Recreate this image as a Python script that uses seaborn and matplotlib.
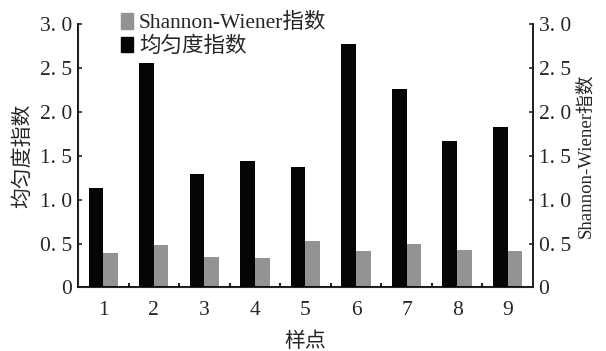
import numpy as np
import pandas as pd
import matplotlib
matplotlib.use("Agg")
import matplotlib.pyplot as plt
import seaborn as sns
from matplotlib.patches import Patch

sites = ["1", "2", "3", "4", "5", "6", "7", "8", "9"]
evenness = [1.13, 2.56, 1.29, 1.44, 1.37, 2.77, 2.26, 1.67, 1.83]
shannon = [0.39, 0.48, 0.35, 0.34, 0.53, 0.41, 0.49, 0.43, 0.41]
series_names = ["均匀度指数", "Shannon-Wiener指数"]
ytick_vals = [0, 0.5, 1.0, 1.5, 2.0, 2.5, 3.0]
ytick_labels = ["0", "0. 5", "1. 0", "1. 5", "2. 0", "2. 5", "3. 0"]

df = pd.DataFrame({
    "样点": sites * 2,
    "值": evenness + shannon,
    "指数": [series_names[0]] * len(sites) + [series_names[1]] * len(sites),
})

sns.set_style("ticks")
fam = ["Liberation Serif", "Noto Sans CJK SC"]
plt.rcParams["font.family"] = fam

colors = {series_names[0]: "#050505", series_names[1]: "#939393"}

fig = plt.figure(figsize=(6.06, 3.51), dpi=100)
ax = fig.add_axes([0.1287, 0.181, 0.7508, 0.7505])
sns.barplot(data=df, x="样点", y="值", hue="指数", hue_order=series_names,
            palette=colors, width=0.58, saturation=1, edgecolor="none",
            linewidth=0, legend=False, ax=ax, errorbar=None)

ax.set_xlim(-0.5, 8.5)
ax.set_ylim(0, 3.0)
ax.set_yticks(ytick_vals)
ax.set_yticklabels(ytick_labels, fontsize=15.5)
ax.tick_params(axis="y", direction="in", length=3, width=1.2, pad=4)
ax.tick_params(axis="x", which="major", length=0, labelsize=15.5, pad=10)
ax.set_xticks(np.arange(0.5, 8.5, 1), minor=True)
ax.tick_params(axis="x", which="minor", direction="in", length=3, width=1.5)
ax.set_xlabel("样点", fontsize=15, labelpad=9)
ax.set_ylabel("均匀度指数", fontsize=15, labelpad=5)

for s in ["left", "bottom", "right"]:
    ax.spines[s].set_linewidth(1.3)
    ax.spines[s].set_color("black")
ax.spines["top"].set_visible(False)

ax2 = ax.twinx()
ax2.set_ylim(0, 3.0)
ax2.set_yticks(ytick_vals)
ax2.set_yticklabels(ytick_labels, fontsize=15.5)
ax2.tick_params(axis="y", direction="in", length=3, width=1.2, pad=4)
ax2.set_ylabel("Shannon-Wiener指数", fontsize=13.5, labelpad=4)
ax2.spines["top"].set_visible(False)
ax2.spines["right"].set_linewidth(1.3)

handles = [Patch(color=colors[series_names[1]], label=series_names[1]),
           Patch(color=colors[series_names[0]], label=series_names[0])]
ax.legend(handles=handles, loc="upper left", bbox_to_anchor=(0.075, 1.075),
          frameon=False, fontsize=15.5, handlelength=0.55, handleheight=0.75,
          handletextpad=0.3, labelspacing=0.15, borderaxespad=0)

fig.savefig("out.png", dpi=100)
